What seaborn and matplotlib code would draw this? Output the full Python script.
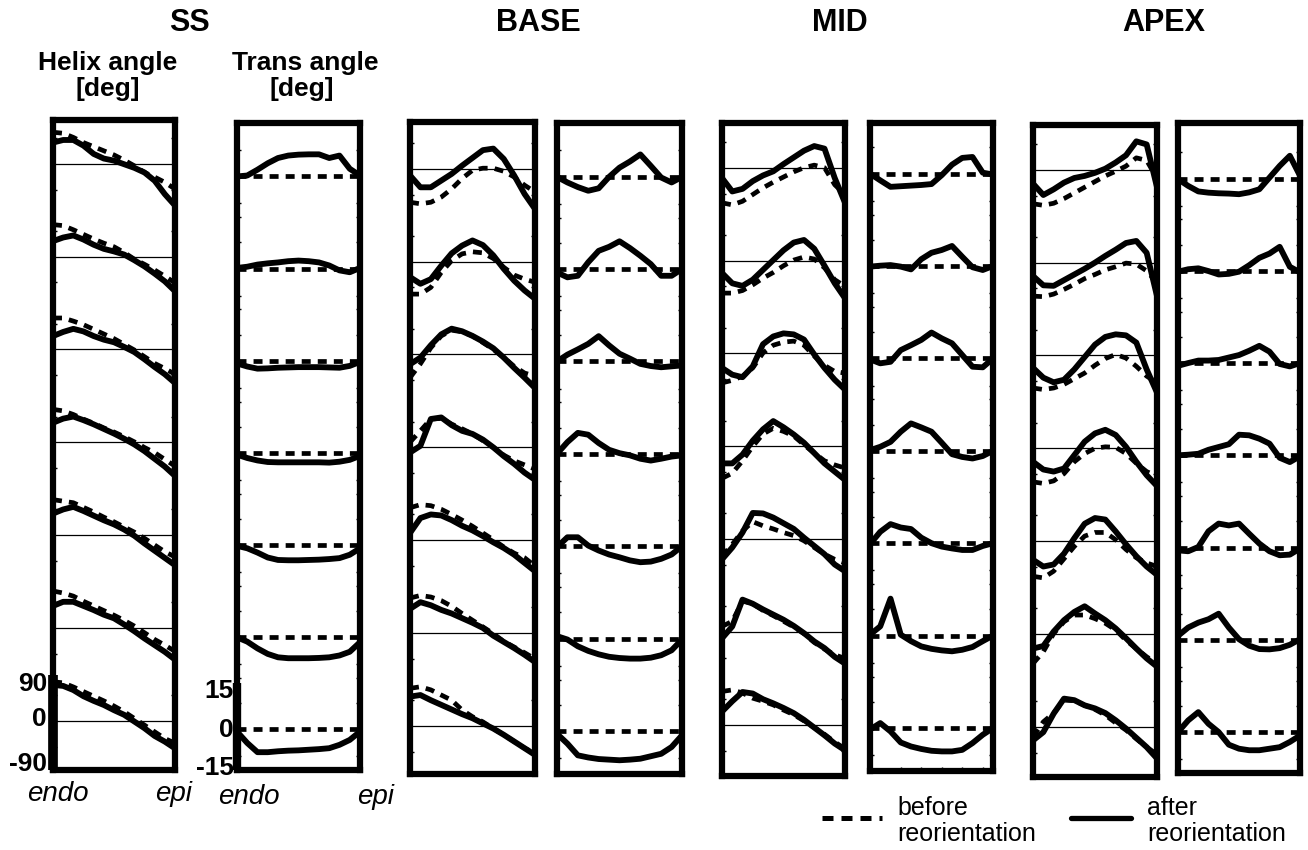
import pandas as pd
import seaborn as sns
import matplotlib.pyplot as plt
from matplotlib.lines import Line2D

sns.set_style("ticks")
plt.rcParams['font.family'] = ['Liberation Sans', 'DejaVu Sans']
plt.rcParams['text.color'] = 'black'
plt.rcParams['xtick.color'] = 'black'
plt.rcParams['ytick.color'] = 'black'

W, H = 1308, 850

# transmural position, endo (0) -> epi (12)
DEPTH = [0, 1, 2, 3, 4, 5, 6, 7, 8, 9, 10, 11, 12]

# ---- SS ----
SS_HELIX_AFTER = [
    [41, 46, 46, 35, 19, 10, 6, -1, -8, -17, -33, -59, -81],
    [30, 37, 41, 33, 23, 15, 10, 4, -7, -19, -33, -48, -67],
    [26, 34, 40, 35, 26, 19, 14, 5, -5, -19, -34, -48, -65],
    [38, 46, 50, 43, 35, 26, 17, 7, -4, -17, -32, -47, -65],
    [42, 50, 55, 47, 38, 29, 21, 11, -1, -16, -30, -44, -58],
    [43, 51, 51, 43, 35, 26, 19, 7, -6, -20, -33, -46, -61],
    [70, 68, 60, 48, 39, 31, 21, 12, -1, -14, -29, -40, -53],
]
SS_HELIX_BEFORE = [
    [61, 59, 51, 41, 33, 25, 17, 7, -4, -17, -26, -36, -49],
    [62, 60, 52, 43, 34, 26, 19, 8, -5, -15, -26, -38, -51],
    [61, 61, 55, 48, 39, 30, 21, 10, -1, -14, -27, -37, -48],
    [64, 61, 54, 45, 37, 28, 20, 11, 1, -10, -20, -33, -46],
    [69, 66, 63, 54, 45, 35, 26, 16, 6, -6, -19, -32, -42],
    [72, 68, 62, 52, 43, 34, 25, 15, 4, -9, -22, -33, -45],
    [76, 74, 66, 57, 48, 39, 29, 18, 5, -8, -21, -34, -43],
]
SS_TRANS_AFTER = [
    [0, 0.3, 2.2, 4.3, 6, 6.8, 7.1, 7.2, 7.2, 6, 6.8, 2.5, 0.3],
    [0.2, 0.6, 1.3, 1.7, 2, 2.4, 2.6, 2.4, 2, 1, -0.6, -1.2, 0.2],
    [-0.9, -1.9, -2.6, -2.5, -2.3, -2.2, -2.1, -2.1, -2.1, -2.2, -2.3, -1.7, -0.4],
    [-0.6, -1.7, -2.5, -3, -3.1, -3.1, -3.1, -3.1, -3.1, -3.2, -2.9, -2.3, -1],
    [-0.3, -1.1, -2.5, -4.1, -4.9, -5, -5, -4.9, -4.8, -4.6, -4.3, -3.2, -1.1],
    [-0.1, -1.5, -3.7, -5.5, -6.6, -6.9, -6.9, -6.9, -6.8, -6.6, -6, -4.8, -1.7],
    [-0.8, -4.5, -7.5, -7.5, -7.2, -7, -6.9, -6.7, -6.5, -6.2, -5.1, -3.5, -0.8],
]

# ---- BASE ----
BASE_HELIX_AFTER = [
    [-13, -36, -36, -23, -10, 6, 21, 36, 39, 19, -13, -49, -78],
    [-30, -43, -34, -8, 16, 31, 41, 32, 12, -14, -37, -56, -72],
    [-19, -6, 18, 39, 50, 45, 36, 25, 12, -6, -26, -45, -65],
    [-10, 3, 55, 58, 43, 32, 26, 15, 0, -17, -32, -49, -63],
    [14, 43, 50, 48, 39, 28, 19, 8, -4, -15, -28, -44, -60],
    [47, 60, 54, 45, 38, 29, 20, 10, -5, -17, -29, -42, -56],
    [57, 60, 50, 41, 32, 23, 15, 5, -5, -17, -30, -43, -56],
]
BASE_HELIX_BEFORE = [
    [-65, -68, -65, -55, -39, -19, -3, 1, 1, -5, -16, -32, -45],
    [-63, -63, -50, -21, 2, 15, 19, 17, 6, -11, -26, -34, -40],
    [-45, -18, 13, 36, 47, 44, 36, 23, 10, -6, -23, -36, -42],
    [10, 32, 55, 56, 45, 36, 26, 13, 0, -15, -26, -34, -42],
    [63, 69, 67, 60, 50, 39, 27, 14, 1, -13, -25, -34, -50],
    [68, 73, 70, 63, 52, 38, 25, 12, -1, -16, -27, -38, -50],
    [73, 76, 70, 60, 50, 31, 18, 8, -5, -17, -30, -43, -53],
]
BASE_TRANS_AFTER = [
    [-0.1, -1.9, -3.4, -4.6, -3.8, -0.1, 2.9, 4.9, 7.2, 3.5, -0.3, -1.9, -0.1],
    [-1.1, -2.7, -2.2, 2.2, 5.9, 7.2, 9, 6.8, 4.3, 1.6, -2.2, -2.2, 0],
    [0, 2.2, 3.9, 5.7, 8.2, 5.2, 2.5, 0.9, -0.8, -1.5, -1.9, -1.6, -1.3],
    [0, 3.8, 6.8, 6.2, 3.5, 1.3, 0.2, -0.5, -1.6, -2.2, -1.6, -0.9, -0.5],
    [-0.3, 2.9, 2.9, 0.2, -1.4, -2.7, -3.6, -4.6, -5.2, -5, -4.1, -2.7, 0],
    [0.8, -0.3, -2.5, -4, -5.1, -5.9, -6.3, -6.5, -6.5, -6.2, -5.4, -3.8, -0.3],
    [-0.9, -4.1, -7.9, -8.6, -9.1, -9.3, -9.5, -9.3, -9, -8.2, -7.4, -5.2, -1.4],
]

# ---- MID ----
MID_HELIX_AFTER = [
    [-20, -46, -41, -26, -15, -7, 7, 20, 33, 42, 37, -20, -68],
    [-24, -44, -49, -37, -18, 1, 20, 35, 40, 23, -10, -44, -73],
    [-28, -41, -46, -25, 18, 33, 39, 37, 27, -2, -28, -51, -70],
    [-33, -33, -16, 11, 33, 49, 37, 23, 7, -13, -33, -49, -65],
    [-39, -16, 13, 51, 50, 42, 31, 20, 3, -13, -29, -49, -62],
    [-12, 11, 63, 55, 44, 34, 24, 12, -2, -18, -31, -48, -61],
    [26, 46, 64, 61, 50, 42, 33, 23, 10, -5, -20, -36, -49],
]
MID_HELIX_BEFORE = [
    [-68, -72, -65, -52, -39, -28, -18, -8, 0, 5, 0, -33, -52],
    [-63, -63, -58, -47, -34, -23, -10, 1, 7, 3, -14, -37, -50],
    [-57, -52, -44, -28, 1, 16, 22, 24, 16, -5, -23, -35, -38],
    [-62, -52, -28, 0, 24, 35, 29, 20, 3, -13, -28, -36, -42],
    [-33, -10, 16, 34, 26, 20, 13, 7, -3, -16, -29, -39, -46],
    [11, 21, 60, 55, 42, 32, 21, 10, -3, -20, -33, -44, -51],
    [65, 68, 62, 52, 46, 39, 29, 20, 8, -5, -18, -33, -46],
]
MID_TRANS_AFTER = [
    [0, -2.2, -4.3, -4.1, -3.9, -3.7, -3.4, -0.5, 2.9, 5.1, 5.4, 0.3, -0.3],
    [-0.2, 0.1, 0.3, -0.2, -1.1, 2.2, 4.3, 5.2, 6.5, 3, -0.4, -1.3, 0],
    [-0.3, -1.6, -1.1, 2.7, 4.3, 6, 8.4, 6.5, 4.9, 1.1, -2.7, -2.9, 0],
    [0.2, 1.3, 2.9, 6.2, 8.9, 7.6, 6.2, 2.6, -1.1, -2, -2.5, -1.7, 0],
    [-0.3, 3.7, 6.2, 5.1, 4.6, 1.8, 0, -1.1, -1.7, -2.2, -2.2, -0.9, 0],
    [0.3, 3, 12, 0.3, -1.8, -3.5, -4.3, -4.8, -5.1, -4.6, -3.7, -1.8, 0],
    [-0.5, 1.6, -1.1, -4.7, -6, -6.8, -7.4, -7.6, -7.6, -7.1, -4.9, -2.2, 0],
]

# ---- APEX ----
APEX_HELIX_AFTER = [
    [-27, -49, -38, -25, -16, -12, -6, 2, 14, 28, 55, 49, -34],
    [-26, -44, -45, -34, -23, -12, 0, 13, 25, 38, 42, 19, -65],
    [-24, -43, -52, -47, -27, -3, 21, 36, 41, 39, 25, -27, -72],
    [-26, -41, -45, -39, -13, 13, 29, 36, 26, 3, -26, -52, -73],
    [-36, -49, -45, -24, 6, 34, 45, 42, 19, -6, -29, -49, -65],
    [-28, -23, 5, 27, 43, 54, 40, 27, 11, -8, -28, -47, -63],
    [-26, -10, 26, 55, 52, 42, 36, 27, 13, -3, -21, -39, -61],
]
APEX_HELIX_BEFORE = [
    [-66, -69, -65, -56, -45, -34, -23, -12, -3, 7, 23, 18, -17],
    [-65, -66, -61, -52, -42, -31, -23, -14, -8, -1, -3, -16, -39],
    [-63, -66, -63, -56, -45, -34, -19, -6, 2, -5, -21, -40, -53],
    [-65, -68, -63, -49, -26, -10, 0, 3, 2, -10, -29, -45, -54],
    [-68, -71, -58, -34, -10, 10, 17, 17, 3, -16, -32, -42, -49],
    [-57, -34, 1, 24, 37, 37, 30, 21, 8, -12, -28, -44, -57],
    [-19, 10, 27, 52, 51, 42, 34, 23, 8, -6, -23, -39, -53],
]
APEX_TRANS_AFTER = [
    [-0.2, -2.4, -4.2, -4.6, -4.8, -4.9, -5.1, -4.5, -3.5, 0.3, 4.1, 7.4, 0.9],
    [-0.3, 0.5, 0.8, -0.1, -1.2, -1, -0.3, 1.8, 4.2, 5.6, 7.8, 1.3, -0.5],
    [-0.9, 0, 0.8, 0.8, 1, 1.8, 2.6, 4, 5.6, 3.7, -0.3, -1.1, 0],
    [0, 0.2, 0.5, 1.8, 2.7, 3.6, 6.7, 6.5, 5.4, 3.8, -0.8, -2.2, -0.3],
    [-0.9, -1.2, 0.2, 5.3, 7.8, 7.2, 7.8, 4.5, 1.3, -1.2, -2.5, -2.3, -0.3],
    [1.3, 4, 5.6, 6.7, 8.5, 4, 0.2, -1.9, -3, -3.1, -2.7, -1.6, 0.2],
    [0, 3.8, 6.5, 2.7, 0, -4.1, -5.4, -5.9, -5.9, -5.4, -4.9, -3.2, -1.1],
]

# transverse angle before reorientation is zero everywhere
TRANS_BEFORE_ROW = [0, 0, 0, 0, 0, 0, 0, 0, 0, 0, 0, 0, 0]
TRANS_BEFORE = [TRANS_BEFORE_ROW] * 7

# kind -> (row spacing in deg, px per deg, tick offsets)
KINDS = {
    'helix': (180, 0.516, [-50, 50]),
    'trans': (30, 3.08, [-13.3, -8.8, 8.5]),
}

# (after, before, kind, box px (left, top, right, bottom), bottom-row zero px)
panels = [
    (SS_HELIX_AFTER, SS_HELIX_BEFORE, 'helix', (53, 120, 175, 770), 721),
    (SS_TRANS_AFTER, TRANS_BEFORE, 'trans', (237, 123, 360, 770), 731),
    (BASE_HELIX_AFTER, BASE_HELIX_BEFORE, 'helix', (410, 122, 535, 774), 726),
    (BASE_TRANS_AFTER, TRANS_BEFORE, 'trans', (557, 123, 682, 774), 731),
    (MID_HELIX_AFTER, MID_HELIX_BEFORE, 'helix', (722, 123, 845, 776), 725),
    (MID_TRANS_AFTER, TRANS_BEFORE, 'trans', (870, 123, 993, 771), 728),
    (APEX_HELIX_AFTER, APEX_HELIX_BEFORE, 'helix', (1033, 125, 1157, 777), 727),
    (APEX_TRANS_AFTER, TRANS_BEFORE, 'trans', (1178, 123, 1300, 773), 733),
]

fig = plt.figure(figsize=(13.08, 8.5), dpi=100)
axes = []

for after, before, kind, (l, t, r, b), zero in panels:
    step, pxdeg, tick_offs = KINDS[kind]
    ax = fig.add_axes([l / W, 1 - b / H, (r - l) / W, (b - t) / H])
    n = len(after)
    recs = []
    for i in range(n):
        off = (n - 1 - i) * step
        for d, a, bf in zip(DEPTH, after[i], before[i]):
            recs.append({'depth': d, 'row': i, 'after': a + off, 'before': bf + off})
    df = pd.DataFrame(recs)

    offsets = [(n - 1 - i) * step for i in range(n)]
    if kind == 'helix':
        for off in offsets:
            ax.axhline(off, color='black', lw=0.9, zorder=1)

    sns.lineplot(data=df, x='depth', y='before', units='row', estimator=None,
                 sort=False, color='black', lw=3.4, linestyle=(0, (1.9, 1.5)),
                 ax=ax, legend=False, zorder=2)
    sns.lineplot(data=df, x='depth', y='after', units='row', estimator=None,
                 sort=False, color='black', lw=4.2, ax=ax, legend=False, zorder=3)

    ax.set_xlim(DEPTH[0], DEPTH[-1])
    ax.set_ylim(-(b - zero) / pxdeg, (zero - t) / pxdeg)
    ax.set_yticks([off + k for off in offsets for k in tick_offs])
    ax.set_xticks([])
    ax.tick_params(axis='y', direction='in', left=True, right=True,
                   labelleft=False, length=3, width=1)
    ax.set_xlabel('')
    ax.set_ylabel('')
    for s in ax.spines.values():
        s.set_linewidth(4.5)
        s.set_color('black')
    axes.append(ax)

# small bottom ticks on the MID transverse panel
axes[5].set_xticks([3, 5, 7, 9, 11])
axes[5].tick_params(axis='x', direction='in', bottom=True, labelbottom=False,
                    length=3, width=1)

# scale bars on the SS panels
axes[0].plot([0, 0], [90, axes[0].get_ylim()[0]], color='black', lw=7,
             solid_capstyle='butt', clip_on=False, zorder=5)
axes[1].plot([0, 0], [15, axes[1].get_ylim()[0]], color='black', lw=6,
             solid_capstyle='butt', clip_on=False, zorder=5)


def ftext(x, y, s, **kw):
    fig.text(x / W, 1 - y / H, s, **kw)


for x, s in [(189, 'SS'), (538, 'BASE'), (840, 'MID'), (1164, 'APEX')]:
    ftext(x, 23, s, ha='center', va='center', fontsize=22, weight='bold')

ftext(108, 63, 'Helix angle', ha='center', va='center', fontsize=19, weight='bold')
ftext(108, 89, '[deg]', ha='center', va='center', fontsize=19, weight='bold')
ftext(305, 63, 'Trans angle', ha='center', va='center', fontsize=19, weight='bold')
ftext(302, 89, '[deg]', ha='center', va='center', fontsize=19, weight='bold')

for y, s in [(684, '90'), (719, '0'), (764, '-90')]:
    ftext(47, y, s, ha='right', va='center', fontsize=19, weight='bold')
for y, s in [(691, '15'), (730, '0'), (768, '-15')]:
    ftext(234, y, s, ha='right', va='center', fontsize=19, weight='bold')

for x, y, s in [(58, 794, 'endo'), (174, 794, 'epi'), (249, 797, 'endo'), (375, 797, 'epi')]:
    ftext(x, y, s, ha='center', va='center', fontsize=20, style='italic')

# legend
fig.add_artist(Line2D([822 / W, 882 / W], [1 - 818 / H, 1 - 818 / H], color='black',
                      lw=3.6, linestyle=(0, (2.2, 1.6)), transform=fig.transFigure))
fig.add_artist(Line2D([1071 / W, 1131 / W], [1 - 818 / H, 1 - 818 / H], color='black',
                      lw=3.8, transform=fig.transFigure))
ftext(897, 808, 'before', ha='left', va='center', fontsize=18)
ftext(897, 834, 'reorientation', ha='left', va='center', fontsize=18)
ftext(1147, 808, 'after', ha='left', va='center', fontsize=18)
ftext(1147, 834, 'reorientation', ha='left', va='center', fontsize=18)

fig.savefig('out.png', dpi=100)
